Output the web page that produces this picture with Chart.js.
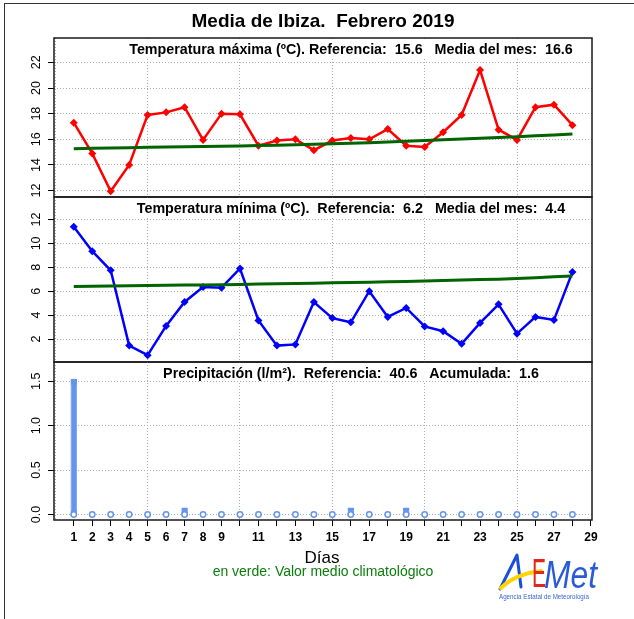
<!DOCTYPE html>
<html>
<head>
<meta charset="utf-8">
<title>Media de Ibiza. Febrero 2019</title>
<script src="https://cdn.jsdelivr.net/npm/chart.js@4.4.1/dist/chart.umd.min.js"></script>
<style>
  body { margin: 0; background: #fff; }
  #lienzo { position: relative; width: 634px; height: 619px; overflow: hidden;
            font-family: "Liberation Sans", Arial, Helvetica, sans-serif; background: #fff; }
  #lienzo canvas { position: absolute; left: 0; top: 0; }
  #marco { position: absolute; left: 4px; top: 3px; width: 640px; height: 640px;
           border-left: 1px solid #333; border-top: 1px solid #333; }
  .txt { position: absolute; left: 0; text-align: center; white-space: pre; }
  #titulo { top: 10px; width: 646px; font-size: 19px; line-height: 22px; font-weight: bold; }
  #dias { top: 548px; width: 644px; font-size: 17px; line-height: 20px; }
  #nota { top: 563px; width: 646px; font-size: 14px; line-height: 16px; color: #0b7d0b; }
  #logo { position: absolute; left: 495px; top: 548px; }
</style>
</head>
<body>
<div id="lienzo">
  <div id="marco"></div>
  <canvas id="gMax" width="634" height="619"></canvas>
  <canvas id="gMin" width="634" height="619"></canvas>
  <canvas id="gPre" width="634" height="619"></canvas>
  <div class="txt" id="titulo">Media de Ibiza.  Febrero 2019</div>
  <div class="txt" id="dias">Días</div>
  <div class="txt" id="nota">en verde: Valor medio climatológico</div>
  <svg id="logo" width="110" height="58" viewBox="0 0 110 58">
    <path d="M5,41 L22,7 L26,39" fill="none" stroke="#1b4fd8" stroke-width="3" stroke-linecap="round" stroke-linejoin="round"/>
    <path d="M6,40 Q20,26 46,23" fill="none" stroke="#ffd400" stroke-width="4" stroke-linecap="round"/>
    <text x="37" y="39" font-size="40" fill="#e3261b" textLength="14" lengthAdjust="spacingAndGlyphs" font-family="Liberation Sans, Arial, sans-serif">E</text>
    <text x="49" y="40" font-size="38" font-style="italic" fill="#2a5bd7" textLength="53" lengthAdjust="spacingAndGlyphs" font-family="Liberation Sans, Arial, sans-serif">Met</text>
    <text x="4" y="51" font-size="7.5" fill="#3a66d0" textLength="90" lengthAdjust="spacingAndGlyphs" font-family="Liberation Sans, Arial, sans-serif">Agencia Estatal de Meteorología</text>
  </svg>
</div>
<script>
// datos de febrero 2019, Ibiza
const DIAS = [1, 2, 3, 4, 5, 6, 7, 8, 9, 10, 11, 12, 13, 14, 15, 16, 17, 18, 19, 20, 21, 22, 23, 24, 25, 26, 27, 28];
const T_MAX = [17.3, 14.9, 11.95, 14.0, 17.9, 18.1, 18.5, 15.95, 18.0, 17.95, 15.5, 15.9, 16.0, 15.15,
               15.9, 16.1, 16.0, 16.8, 15.5, 15.4, 16.55, 17.9, 21.4, 16.75, 15.95, 18.5, 18.7, 17.1];
const T_MAX_CLIM = [15.27, 15.3, 15.32, 15.35, 15.38, 15.4, 15.42, 15.44, 15.46, 15.48, 15.51, 15.54, 15.57, 15.61,
                    15.65, 15.69, 15.74, 15.79, 15.84, 15.9, 15.96, 16.02, 16.08, 16.14, 16.2, 16.27, 16.34, 16.42];
const T_MIN = [11.4, 9.35, 7.75, 1.45, 0.65, 3.1, 5.1, 6.35, 6.3, 7.9, 3.55, 1.45, 1.55, 5.1,
               3.75, 3.4, 6.0, 3.85, 4.6, 3.05, 2.65, 1.6, 3.35, 4.9, 2.45, 3.85, 3.6, 7.6];
const T_MIN_CLIM = [6.39, 6.41, 6.43, 6.45, 6.47, 6.49, 6.51, 6.53, 6.55, 6.57, 6.6, 6.62, 6.65, 6.67,
                    6.7, 6.73, 6.76, 6.79, 6.82, 6.85, 6.89, 6.93, 6.97, 7.01, 7.06, 7.12, 7.2, 7.28];
const PRECIP = [1.5, 0, 0, 0, 0, 0, 0.05, 0, 0, 0, 0, 0, 0, 0,
                0, 0.05, 0, 0, 0.05, 0, 0, 0, 0, 0, 0, 0, 0, 0];

const Y_TICKS_MAX = [12, 14, 16, 18, 20, 22];
const Y_TICKS_MIN = [2, 4, 6, 8, 10, 12];
const Y_TICKS_PRE = [0, 0.5, 1, 1.5];
const X_TICKS = [0, 1, 2, 3, 4, 5, 6, 7, 8, 9, 10, 11, 12, 13, 14, 15, 16, 17, 18, 19, 20, 21, 22, 23, 24, 25, 26, 27, 28, 29];
const X_LABELS = [1, 2, 3, 4, 5, 6, 7, 8, 9, 11, 13, 15, 17, 19, 21, 23, 25, 27, 29];
const X_GRID = [0, 5, 10, 15, 20, 25];

const SUB_MAX = 'Temperatura máxima (ºC). Referencia:  15.6   Media del mes:  16.6';
const SUB_MIN = 'Temperatura mínima (ºC).  Referencia:  6.2   Media del mes:  4.4';
const SUB_PRE = 'Precipitación (l/m²).  Referencia:  40.6   Acumulada:  1.6';

const FUENTE = "'Liberation Sans', Arial, Helvetica, sans-serif";
const GRIS = '#ababab';
const VERDE = '#006400';
const AZUL_CLARO = '#6495ed';
const NADA = 'rgba(0,0,0,0)';

Chart.defaults.font.family = FUENTE;
Chart.defaults.color = '#000';

// caja del panel y texto de cabecera con fondo blanco
const cajaPanel = {
  id: 'cajaPanel',
  beforeDatasetsDraw(chart, args, opts) {
    const ctx = chart.ctx, a = chart.chartArea;
    ctx.save();
    ctx.font = 'bold 14.3px ' + FUENTE;
    const w = ctx.measureText(opts.texto).width;
    const cy = a.top + opts.dy;
    ctx.fillStyle = '#fff';
    ctx.fillRect(opts.cx - w / 2 - 4, a.top + 1, w + 8, cy + 7 - a.top - 1);
    ctx.fillStyle = '#000';
    ctx.textAlign = 'center';
    ctx.textBaseline = 'middle';
    ctx.fillText(opts.texto, opts.cx, cy);
    ctx.restore();
  },
  afterDraw(chart) {
    const ctx = chart.ctx, a = chart.chartArea;
    ctx.save();
    ctx.strokeStyle = '#1a1a1a';
    ctx.lineWidth = 1.5;
    ctx.strokeRect(a.left, a.top, a.right - a.left, a.bottom - a.top);
    ctx.restore();
  }
};

function ejeX(conEtiquetas) {
  return {
    type: 'linear', min: -0.07, max: 29.06, offset: false,
    afterBuildTicks: s => { s.ticks = X_TICKS.map(v => ({ value: v })); },
    afterFit: s => { s.height = conEtiquetas ? 30 : 0; },
    border: { display: false, dash: [1, 2] },
    grid: {
      offset: false,
      color: c => (c.tick && X_GRID.includes(c.tick.value)) ? GRIS : NADA,
      drawTicks: conEtiquetas, tickLength: 6, tickWidth: 1,
      tickColor: c => (c.tick && c.tick.value >= 1) ? '#000' : NADA
    },
    ticks: {
      display: conEtiquetas, autoSkip: false, minRotation: 0, maxRotation: 0, padding: 4,
      font: { size: 12, weight: 'bold' },
      callback: v => X_LABELS.includes(v) ? String(v) : ''
    }
  };
}

function ejeY(min, max, valores, dec, pad) {
  return {
    type: 'linear', position: 'left', min: min, max: max,
    afterBuildTicks: s => { s.ticks = valores.map(v => ({ value: v })); },
    afterFit: s => { s.width = 54; },
    border: { display: false, dash: [1, 2] },
    grid: { color: GRIS, tickColor: '#000', tickLength: 6, tickWidth: 1 },
    ticks: {
      minRotation: 90, maxRotation: 90, crossAlign: 'center', padding: pad,
      font: { size: 12.5 }, callback: v => v.toFixed(dec)
    }
  };
}

function serie(vals) {
  return DIAS.map((d, i) => ({ x: d, y: vals[i] }));
}

function lineaDatos(vals, color) {
  return {
    type: 'line', data: serie(vals), borderColor: color, borderWidth: 2.5,
    pointStyle: 'rectRot', pointRadius: 4, pointBorderWidth: 0,
    pointBackgroundColor: color, tension: 0
  };
}

function lineaClima(vals) {
  return { type: 'line', data: serie(vals), borderColor: VERDE, borderWidth: 3, pointRadius: 0, tension: 0 };
}

function opciones(top, bottom, conEtiquetas, ejeVertical, texto) {
  return {
    responsive: false, animation: false, devicePixelRatio: 1,
    layout: { padding: { left: 0, right: 42, top: top, bottom: bottom } },
    plugins: {
      legend: { display: false }, tooltip: { enabled: false },
      cajaPanel: { texto: texto, cx: 351, dy: 12 }
    },
    scales: { x: ejeX(conEtiquetas), y: ejeVertical }
  };
}

new Chart(document.getElementById('gMax'), {
  type: 'line',
  data: { datasets: [lineaClima(T_MAX_CLIM), lineaDatos(T_MAX, '#ff0000')] },
  options: opciones(38, 619 - 197, false, ejeY(11.5, 23.9, Y_TICKS_MAX, 0, 5), SUB_MAX),
  plugins: [cajaPanel]
});

new Chart(document.getElementById('gMin'), {
  type: 'line',
  data: { datasets: [lineaClima(T_MIN_CLIM), lineaDatos(T_MIN, '#0000ff')] },
  options: opciones(197, 619 - 362, false, ejeY(0.08, 13.88, Y_TICKS_MIN, 0, 5), SUB_MIN),
  plugins: [cajaPanel]
});

// barras con extremos redondeados, como las de trazo grueso del original
new Chart(document.getElementById('gPre'), {
  type: 'line',
  data: {
    datasets: [
      { type: 'line', data: serie(DIAS.map(() => 0)), showLine: false, pointStyle: 'circle',
        pointRadius: 2.7, pointBorderWidth: 1.5, pointBorderColor: AZUL_CLARO, pointBackgroundColor: '#fff' },
      { type: 'bar', data: serie(PRECIP), backgroundColor: AZUL_CLARO, borderColor: AZUL_CLARO,
        borderWidth: 1, inflateAmount: 2.5, barThickness: 1.5, borderRadius: 3, borderSkipped: false }
    ]
  },
  options: opciones(362, 619 - 520 - 30, true, ejeY(-0.062, 1.716, Y_TICKS_PRE, 1, 3), SUB_PRE),
  plugins: [cajaPanel]
});
</script>
</body>
</html>
